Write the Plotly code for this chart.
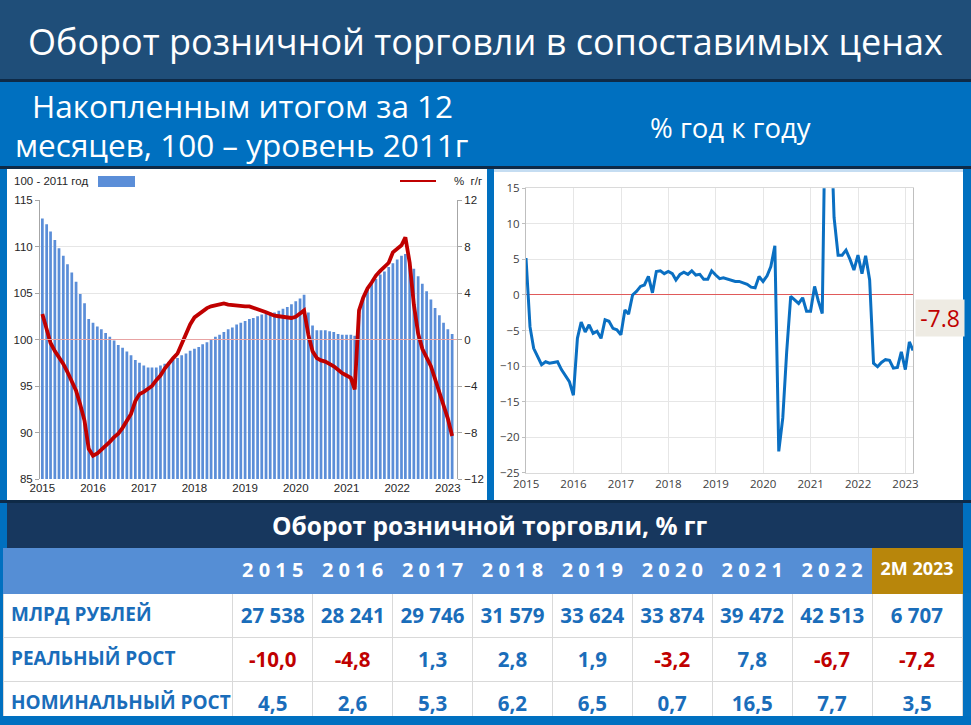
import pandas as pd
import plotly.graph_objects as go

# ---------------- data ----------------
# Left chart: monthly, Jan 2015 .. Feb 2023
bar_months = pd.date_range("2015-01-01", periods=98, freq="MS")
index_2011 = [113.0, 112.4, 111.6, 110.7, 109.8, 109.0, 108.1, 107.2, 106.2, 104.9, 103.9, 102.2,
              101.8, 101.4, 101.1, 100.7, 100.3, 99.9, 99.4, 99.1, 98.7, 98.3, 97.8, 97.5,
              97.2, 97.0, 97.0, 97.0, 97.2, 97.4, 97.6, 97.8, 98.0, 98.3, 98.5, 98.8,
              99.0, 99.2, 99.5, 99.7, 100.0, 100.3, 100.5, 100.8, 101.1, 101.3, 101.6, 101.8,
              102.0, 102.2, 102.3, 102.5, 102.7, 102.8, 102.9, 102.9, 103.1, 103.3, 103.5, 103.8,
              104.1, 104.4, 104.8, 102.9, 101.5, 101.0, 101.0, 101.0, 100.9, 100.8, 100.6, 100.5,
              100.5, 100.5, 100.4, 102.6, 104.5, 105.4, 106.0, 106.5, 107.0, 107.3, 107.8, 108.2,
              108.6, 109.0, 109.2, 108.4, 107.6, 106.8, 106.0, 105.2, 104.3, 103.4, 102.6, 101.8,
              101.1, 100.6]
yoy_12m = [2.2, 0.8, -0.3, -1.0, -1.5, -2.1, -2.8, -3.6, -4.4, -5.6, -7.0, -9.4,
           -10.0, -9.8, -9.5, -9.1, -8.8, -8.4, -8.1, -7.6, -7.0, -6.4, -5.3, -4.7,
           -4.5, -4.2, -4.0, -3.5, -3.1, -2.5, -2.0, -1.6, -1.2, -0.4, 0.4, 1.3,
           1.9, 2.2, 2.5, 2.7, 2.85, 2.95, 3.05, 3.1, 3.0, 2.95, 2.9, 2.9,
           2.85, 2.85, 2.75, 2.6, 2.5, 2.35, 2.2, 2.05, 2.0, 1.95, 1.9, 1.85,
           1.95, 2.2, 2.5, 0.4, -1.0, -1.6, -1.8, -1.9, -2.1, -2.3, -2.6, -2.9,
           -3.1, -3.3, -4.3, 2.5, 3.6, 4.4, 4.9, 5.5, 5.9, 6.3, 6.6, 7.5,
           7.8, 8.1, 8.8, 6.6, 3.0, 0.5, -0.8, -1.6, -2.3, -3.4, -4.5, -5.6,
           -6.8, -8.3]
left_years = [str(y) for y in range(2015, 2024)]

# Right chart: monthly % y/y, Dec 2014 .. Feb 2023 (end-of-month points)
yoy_dates = pd.date_range("2015-01-01", periods=99, freq="MS") - pd.Timedelta(days=1)
yoy_month = [5.2,
             -4.5, -7.5, -8.7, -9.8, -9.4, -9.6, -9.5, -9.4, -10.5, -11.3, -12.2, -14.1,
             -6.1, -3.8, -5.2, -4.2, -5.4, -5.1, -6.1, -3.5, -3.7, -4.7, -4.9, -5.6,
             -2.1, -2.7, 0.0, 0.5, 1.2, 1.4, 2.6, 0.3, 3.3, 3.4, 3.0, 3.3,
             3.0, 2.1, 2.9, 3.2, 2.9, 3.4, 2.8, 2.9, 2.2, 2.2, 3.4, 2.8,
             2.3, 2.4, 2.2, 2.0, 1.9, 1.9, 1.7, 1.5, 1.1, 1.0, 2.6, 1.9,
             2.7, 4.0, 6.9, -22.0, -17.3, -8.0, -0.2, -0.7, -1.2, -0.4, -2.3, -2.3,
             1.2, -0.8, -2.6, 34.7, 27.2, 10.9, 5.6, 5.6, 6.3, 5.0, 3.5, 5.6,
             3.0, 5.5, 2.1, -9.6, -10.1, -9.5, -9.1, -9.2, -10.3, -10.2, -8.0, -10.5,
             -6.6, -7.8]
last_value_label = "-7.8"

# Table
table_cols = ["2015", "2016", "2017", "2018", "2019", "2020", "2021", "2022", "2M 2023"]
row_labels = ["МЛРД РУБЛЕЙ", "РЕАЛЬНЫЙ РОСТ", "НОМИНАЛЬНЫЙ РОСТ"]
bln_rub = [27538, 28241, 29746, 31579, 33624, 33874, 39472, 42513, 6707]
real_growth = [-10.0, -4.8, 1.3, 2.8, 1.9, -3.2, 7.8, -6.7, -7.2]
nominal_growth = [4.5, 2.6, 5.3, 6.2, 6.5, 0.7, 16.5, 7.7, 3.5]

# ---------------- helpers ----------------
W, H = 971, 725
NB = "\u00a0"


def px(x):
    return x / W


def py(y):
    return 1 - y / H


def fmt_int(v):
    return f"{v:,}".replace(",", NB)


def fmt_dec(v):
    return f"{v:.1f}".replace(".", ",")


def spaced(c):
    return NB.join(list(c)) if c.isdigit() else c.replace(" ", NB)


BLUE_TXT = "#1A6DBA"
RED_TXT = "#C00000"
HEAD_FONT = "Open Sans"

fig = go.Figure()

# left chart
fig.add_trace(go.Bar(x=bar_months, y=index_2011, xaxis="x", yaxis="y",
                     marker=dict(color="#5B8ED8", line=dict(width=0)),
                     showlegend=False, hoverinfo="x+y"))
fig.add_trace(go.Scatter(x=bar_months, y=yoy_12m, xaxis="x", yaxis="y2", mode="lines",
                         line=dict(color="#C00000", width=3.8), showlegend=False))
# right chart
fig.add_trace(go.Scatter(x=yoy_dates, y=yoy_month, xaxis="x2", yaxis="y3", mode="lines",
                         line=dict(color="#0A6FC2", width=3), showlegend=False))

# table
header_vals = [""] + ["<b>" + spaced(c) + "</b>" for c in table_cols]
header_fill = ["#558ED5"] * 9 + ["#B8860B"]
header_sizes = [20] * 9 + [18]
cell_vals = [["<b>" + r.replace(" ", NB) + "</b>" for r in row_labels]]
cell_colors = [[BLUE_TXT] * 3]
for i in range(len(table_cols)):
    cell_vals.append(["<b>" + fmt_int(bln_rub[i]) + "</b>",
                      "<b>" + fmt_dec(real_growth[i]) + "</b>",
                      "<b>" + fmt_dec(nominal_growth[i]) + "</b>"])
    cell_colors.append([BLUE_TXT, RED_TXT if real_growth[i] < 0 else BLUE_TXT, BLUE_TXT])
cell_sizes = [19] + [20.5] * 9

fig.add_trace(go.Table(
    domain=dict(x=[px(3), px(963)], y=[py(716), py(548)]),
    columnwidth=[230] + [80] * 8 + [90],
    header=dict(values=header_vals, fill_color=header_fill, height=45,
                line=dict(color=header_fill, width=1),
                font=dict(family=HEAD_FONT, size=header_sizes, color="white"), align="center"),
    cells=dict(values=cell_vals, fill_color="white", height=41,
               line=dict(color="#D9D9D9", width=1),
               font=dict(family=HEAD_FONT, size=cell_sizes, color=cell_colors),
               align=["left"] + ["center"] * 9),
))

# ---------------- shapes (backgrounds) ----------------
shapes = [
    dict(type="rect", xref="paper", yref="paper", x0=0, x1=1, y0=py(80), y1=1,
         fillcolor="#1F4E79", line=dict(width=0), layer="below"),
    dict(type="rect", xref="paper", yref="paper", x0=0, x1=1, y0=py(82), y1=py(79),
         fillcolor="#0E2A47", line=dict(width=0), layer="below"),
    dict(type="rect", xref="paper", yref="paper", x0=0, x1=1, y0=py(169), y1=py(166),
         fillcolor="#0E2A47", line=dict(width=0), layer="below"),
    dict(type="rect", xref="paper", yref="paper", x0=px(7), x1=px(487), y0=py(500), y1=py(169),
         fillcolor="white", line=dict(width=0), layer="below"),
    dict(type="rect", xref="paper", yref="paper", x0=px(494), x1=px(963), y0=py(500), y1=py(169),
         fillcolor="white", line=dict(width=0), layer="below"),
    dict(type="rect", xref="paper", yref="paper", x0=px(494), x1=px(963), y0=py(172), y1=py(169),
         fillcolor="#C5DDF2", line=dict(width=0), layer="below"),
    dict(type="rect", xref="paper", yref="paper", x0=0, x1=1, y0=py(503), y1=py(500),
         fillcolor="#0E2A47", line=dict(width=0), layer="below"),
    dict(type="rect", xref="paper", yref="paper", x0=px(7), x1=px(963), y0=py(548), y1=py(503),
         fillcolor="#17375E", line=dict(width=0), layer="below"),
    # left chart legend keys
    dict(type="rect", xref="paper", yref="paper", x0=px(98), x1=px(135), y0=py(187), y1=py(176),
         fillcolor="#5B8ED8", line=dict(width=0)),
    dict(type="line", xref="paper", yref="paper", x0=px(400), x1=px(436), y0=py(181), y1=py(181),
         line=dict(color="#C00000", width=2)),
    # 100 / 0 reference line of left chart
    dict(type="line", xref="x domain", yref="y2", x0=0, x1=1, y0=0, y1=0,
         line=dict(color="#E8A3A3", width=1), layer="above"),
]

ann = [
    dict(text="Оборот розничной торговли в сопоставимых ценах", x=0.5, y=py(42),
         font=dict(family=HEAD_FONT, size=36, color="white")),
    dict(text="Накопленным итогом за 12", x=px(242), y=py(105),
         font=dict(family=HEAD_FONT, size=31.5, color="white")),
    dict(text="месяцев, 100 – уровень 2011г", x=px(241), y=py(145),
         font=dict(family=HEAD_FONT, size=31.5, color="white")),
    dict(text="% год к году", x=px(730), y=py(127),
         font=dict(family=HEAD_FONT, size=27.5, color="white")),
    dict(text="100 - 2011 год", x=px(12), y=py(181), xanchor="left",
         font=dict(family="Liberation Sans", size=11.5, color="#262626")),
    dict(text="%  г/г", x=px(452), y=py(181), xanchor="left",
         font=dict(family="Liberation Sans", size=11.5, color="#262626")),
    dict(text=last_value_label, x=px(940), y=py(318), width=46, height=34,
         bgcolor="#EEEBE3", font=dict(family=HEAD_FONT, size=23, color="#C00000")),
    dict(text="<b>Оборот розничной торговли, % гг</b>", x=px(490), y=py(525),
         font=dict(family=HEAD_FONT, size=24.5, color="white")),
]
for a in ann:
    a.setdefault("xref", "paper")
    a.setdefault("yref", "paper")
    a.setdefault("showarrow", False)
    a.setdefault("xanchor", "center")
    a.setdefault("yanchor", "middle")

tick_dates = pd.to_datetime([f"{y}-01-01" for y in left_years])
axis_font_l = dict(family="Liberation Sans", size=11.5, color="#262626")
axis_font_r = dict(family=HEAD_FONT, size=11.5, color="#404040")

fig.update_layout(
    template="none",
    width=W, height=H, autosize=False,
    margin=dict(l=0, r=0, t=0, b=0, pad=0, autoexpand=False),
    paper_bgcolor="#0070C0", plot_bgcolor="white",
    bargap=0.3,
    showlegend=False,
    shapes=shapes, annotations=ann,
    xaxis=dict(domain=[px(40), px(457)], anchor="y", type="date", automargin=False,
               range=["2014-12-15", "2023-03-08"],
               tickvals=tick_dates, ticktext=left_years, tickfont=axis_font_l,
               showgrid=False, showline=False, ticks="", zeroline=False),
    yaxis=dict(domain=[py(479), py(200)], anchor="x", range=[85, 115], dtick=5, automargin=False,
               tickfont=axis_font_l, showgrid=True, gridcolor="#E6E6E6",
               showline=True, linecolor="#A6A6A6", ticks="outside", ticklen=4,
               tickcolor="#A6A6A6", zeroline=False),
    yaxis2=dict(overlaying="y", anchor="x", side="right", range=[-12, 12], dtick=4,
                automargin=False,
                tickfont=axis_font_l, showgrid=False, showline=True, linecolor="#A6A6A6",
                ticks="outside", ticklen=4, tickcolor="#A6A6A6", zeroline=False),
    xaxis2=dict(domain=[px(526), px(913)], anchor="y3", type="date", automargin=False,
                range=["2014-12-31", "2023-02-28"],
                tickvals=tick_dates, ticktext=left_years, tickfont=axis_font_r,
                showgrid=True, gridcolor="#E6E6E6", showline=True, mirror=True,
                linecolor="#DADADA", ticks="", zeroline=False),
    yaxis3=dict(domain=[py(472.7), py(188.3)], anchor="x2", range=[-25, 15], dtick=5,
                automargin=False,
                tickfont=axis_font_r, showgrid=True, gridcolor="#E6E6E6",
                showline=True, mirror=True, linecolor="#BFBFBF", ticks="outside",
                ticklen=3, tickcolor="#BFBFBF",
                zeroline=True, zerolinecolor="#E05A5A", zerolinewidth=1),
)

fig.write_html("out.html", config={"displayModeBar": False},
               post_script="document.body.style.margin='0';document.body.style.overflow='hidden';")
